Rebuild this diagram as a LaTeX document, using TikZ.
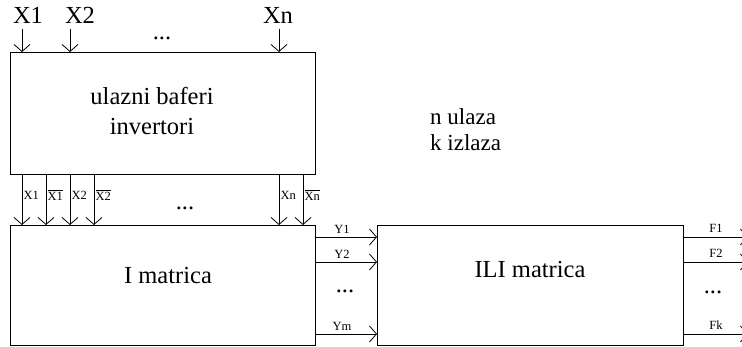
\documentclass[tikz,border=0pt]{standalone}
\usepackage{fontspec}
\setmainfont{Liberation Serif}
\usetikzlibrary{arrows.meta}
\tikzset{
  blk/.style={draw, line width=0.9pt},
  arr/.style={line width=0.8pt, -{Straight Barb[length=7pt,width=16pt,line width=0.8pt]}},
  big/.style={font=\fontsize{24.5}{26}\selectfont, inner sep=0pt},
  mid/.style={font=\fontsize{23}{25}\selectfont, inner sep=0pt},
  sml/.style={font=\fontsize{12.5}{13}\selectfont, inner sep=0pt},
}
\begin{document}
\begin{tikzpicture}[x=1pt,y=-1pt]
\useasboundingbox (0,0) rectangle (742,347);
% boxes
\node[blk, minimum width=305pt, minimum height=122pt, anchor=north west, inner sep=0pt] (buf) at (10,52) {};
\node[blk, minimum width=305pt, minimum height=120pt, anchor=north west, inner sep=0pt] (and) at (10,225) {};
\node[blk, minimum width=306pt, minimum height=120pt, anchor=north west, inner sep=0pt] (or) at (377,225) {};
\node[big] (t1) at (152,96) {ulazni baferi};
\node[big] (t2) at (152,127) {invertori};
\node[big] (t3) at (168,276) {I matrica};
\node[big] (t4) at (530,270) {ILI matrica};
\node[mid, anchor=west] (n1) at (430,117) {n ulaza};
\node[mid, anchor=west] (n2) at (430,143) {k izlaza};
% inputs
\node[big] (x1) at (28,15) {X1};
\node[big] (x2) at (80,15) {X2};
\node[big] (xn) at (278,15) {Xn};
\coordinate (i1) at (22,29);
\coordinate (i2) at (70,29);
\coordinate (in) at (279,29);
\draw[arr] (i1) -- (i1 |- buf.north);
\draw[arr] (i2) -- (i2 |- buf.north);
\draw[arr] (in) -- (in |- buf.north);
\node[big] (d0) at (162,38) {...};
% middle arrows
\foreach \x/\n/\l in {22/a/X1, 46/b/$\overline{\mathrm{X1}}$, 70/c/X2, 94/d/$\overline{\mathrm{X2}}$, 279/e/Xn, 303/f/$\overline{\mathrm{Xn}}$} {
  \coordinate (m\n) at (\x,174);
  \draw[arr] (m\n) -- (m\n |- and.north);
  \node[sml, anchor=west] (l\n) at (\x+1.5,195) {\l};
}
\node[big] (d1) at (185,208) {...};
% Y lines
\foreach \y/\n/\l in {237/1/Y1, 262/2/Y2, 334/m/Ym} {
  \coordinate (y\n) at (315,\y);
  \draw[arr] (y\n) -- (y\n -| or.west);
  \node[sml] (ly\n) at (342,\y-8) {\l};
}
\node[big] (d2) at (345,291) {...};
% F lines
\foreach \y/\n/\l in {237/1/F1, 262/2/F2, 334/k/Fk} {
  \coordinate (f\n) at (683,\y);
  \coordinate (g\n) at (748,\y);
  \draw[arr] (f\n) -- (g\n);
  \node[sml] (lf\n) at (716,\y-9) {\l};
}
\node[big] (d3) at (713,292) {...};
\end{tikzpicture}
\end{document}
